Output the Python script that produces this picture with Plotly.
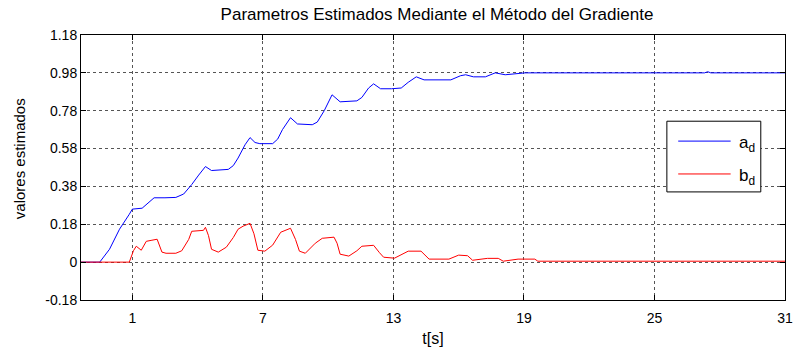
import plotly.graph_objects as go

# Estimated parameter a_d (time [s], value)
t_a = [-1.36, -0.5, -0.05, 0.41, 0.86, 1.0, 1.45, 1.7, 2.0, 2.5, 3.0, 3.36, 3.73, 4.05,
       4.36, 4.64, 5.41, 5.64, 5.86, 6.18, 6.41, 6.64, 6.86, 7.45, 7.68, 7.9, 8.27,
       8.59, 9.27, 9.5, 9.82, 10.18, 10.55, 11.32, 11.55, 11.86, 12.09, 12.41, 12.91,
       13.36, 13.68, 14.05, 14.41, 15.64, 16.09, 16.32, 16.68, 17.23, 17.68, 18.14,
       18.73, 19.05, 27.3, 27.45, 27.59, 31.0]
a_d = [0.0, 0.0, 0.068, 0.174, 0.253, 0.28, 0.285, 0.31, 0.34, 0.34, 0.342, 0.36, 0.41,
       0.46, 0.505, 0.484, 0.49, 0.51, 0.55, 0.62, 0.658, 0.632, 0.626, 0.626, 0.65, 0.7,
       0.763, 0.73, 0.726, 0.74, 0.8, 0.884, 0.847, 0.852, 0.87, 0.92, 0.942, 0.916,
       0.916, 0.92, 0.95, 0.979, 0.963, 0.963, 0.985, 0.99, 0.979, 0.979, 1.0, 0.99,
       0.995, 1.0, 1.0, 1.006, 1.0, 1.0]

# Estimated parameter b_d (time [s], value)
t_b = [-1.36, 0.86, 1.05, 1.18, 1.41, 1.64, 1.86, 2.14, 2.36, 2.55, 3.0, 3.27, 3.59,
       3.73, 4.27, 4.36, 4.5, 4.64, 4.95, 5.32, 5.64, 5.86, 6.09, 6.41, 6.59, 6.77,
       7.09, 7.45, 7.82, 8.27, 8.5, 8.68, 8.95, 9.41, 9.73, 10.27, 10.41, 10.55, 10.95,
       11.32, 11.55, 12.09, 12.36, 12.55, 13.05, 13.36, 13.68, 14.27, 14.5, 14.64,
       15.55, 16.0, 16.41, 16.64, 17.32, 17.82, 18.05, 18.73, 19.5, 19.64, 31.0]
b_d = [0.0, 0.0, 0.06, 0.084, 0.063, 0.11, 0.115, 0.121, 0.053, 0.047, 0.047, 0.06,
       0.12, 0.163, 0.168, 0.184, 0.14, 0.068, 0.053, 0.079, 0.13, 0.174, 0.19, 0.205,
       0.15, 0.063, 0.058, 0.09, 0.158, 0.179, 0.12, 0.058, 0.047, 0.1, 0.126, 0.132,
       0.1, 0.042, 0.032, 0.06, 0.084, 0.089, 0.05, 0.026, 0.021, 0.04, 0.058, 0.058,
       0.03, 0.016, 0.016, 0.037, 0.034, 0.01, 0.02, 0.02, 0.005, 0.016, 0.016, 0.005,
       0.005]

series_names = ["a<sub>d</sub>", "b<sub>d</sub>"]
series_colors = ["#0000FF", "#FF0000"]

x_ticks = [1, 7, 13, 19, 25, 31]
y_tick_pos = [-0.2, 0.0, 0.2, 0.4, 0.6, 0.8, 1.0, 1.2]
y_tick_text = ["-0.18", "0", "0.18", "0.38", "0.58", "0.78", "0.98", "1.18"]

FONT = "Liberation Sans, Arial, sans-serif"

fig = go.Figure()
for t, v, name, color in zip([t_a, t_b], [a_d, b_d], series_names, series_colors):
    fig.add_trace(go.Scatter(x=t, y=v, mode="lines", name=name, showlegend=False,
                             line=dict(color=color, width=1)))

axis_common = dict(
    showline=True, linecolor="black", linewidth=1, mirror="ticks",
    ticks="inside", ticklen=5, tickcolor="black",
    showgrid=True, gridcolor="#555555", griddash="dot", gridwidth=1,
    zeroline=False, tickfont=dict(family=FONT, size=14, color="black"),
)

fig.update_xaxes(range=[-1.36, 31], tickvals=x_ticks, ticklabelstandoff=5,
                 title=dict(text="t[s]", font=dict(family=FONT, size=16, color="black"),
                            standoff=8),
                 **axis_common)
fig.update_yaxes(range=[-0.2, 1.2], tickvals=y_tick_pos, ticktext=y_tick_text,
                 **axis_common)

# Boxed legend in the right half of the axes (paper coords of the plot area)
box = dict(x0=0.8322, x1=0.9656, y0=0.4079, y1=0.6747)
line_x = (0.8483, 0.9228)
row_y = [0.5996, 0.4756]
shapes = [dict(type="rect", xref="paper", yref="paper", fillcolor="white",
               line=dict(color="black", width=1), layer="above", **box)]
annotations = [dict(text="valores estimados", xref="paper", yref="paper",
                    x=-0.0871, y=0.534, textangle=-90, showarrow=False,
                    xanchor="center", yanchor="middle",
                    font=dict(family=FONT, size=15, color="black"))]
for name, color, y in zip(series_names, series_colors, row_y):
    shapes.append(dict(type="line", xref="paper", yref="paper", layer="above",
                       x0=line_x[0], x1=line_x[1], y0=y, y1=y,
                       line=dict(color=color, width=1)))
    annotations.append(dict(text=name, xref="paper", yref="paper", x=0.9312, y=y - 0.012,
                            xanchor="left", yanchor="middle", showarrow=False,
                            font=dict(family=FONT, size=17, color="black")))

fig.update_layout(
    width=801, height=353,
    margin=dict(l=81, r=8, t=35, b=52),
    paper_bgcolor="white", plot_bgcolor="white",
    title=dict(text="Parametros Estimados Mediante el Método del Gradiente",
               font=dict(family=FONT, size=17, color="black"),
               x=(81 + 793) / 2 / 801, xanchor="center",
               y=1 - 14 / 353, yanchor="middle", yref="container"),
    shapes=shapes, annotations=annotations,
    showlegend=False,
)

fig.write_html("out.html")
